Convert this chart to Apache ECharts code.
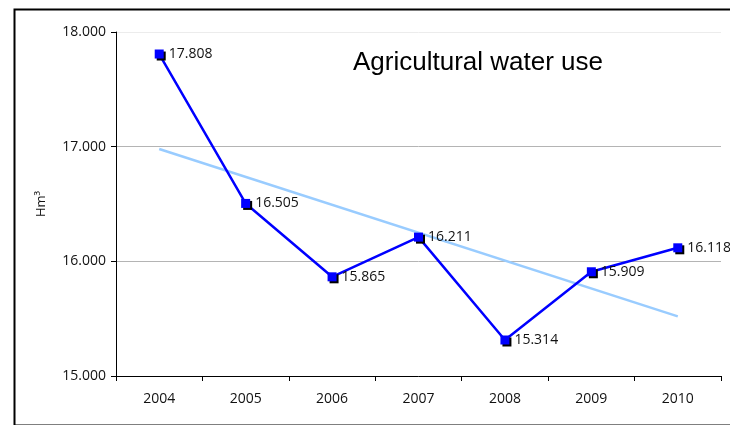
<!DOCTYPE html>
<html><head><meta charset="utf-8">
<script src="https://cdn.jsdelivr.net/npm/echarts@6/dist/echarts.min.js"></script>
<style>html,body{margin:0;padding:0;background:#fff}#c{width:730px;height:425px}</style>
</head><body><div id="c"></div>
<script>
const years = ['2004','2005','2006','2007','2008','2009','2010'];
const waterUse = [17.808, 16.505, 15.865, 16.211, 15.314, 15.909, 16.118];
const trendStart = 16.98;
const trendEnd = 15.52;
const yTicks = [15, 16, 17, 18];

const chart = echarts.init(document.getElementById('c'));
const font = '"Open Sans", "DejaVu Sans", sans-serif';
chart.setOption({
  animation: false,
  backgroundColor: '#fff',
  graphic: [{
    type: 'rect', left: 12, top: 7,
    shape: { width: 740, height: 416 },
    style: { fill: 'none', stroke: '#000', lineWidth: 2 }, z: -1
  }, {
    type: 'text', left: 353, top: 50,
    style: { text: 'Agricultural water use', font: '26px "Liberation Sans", Arial, sans-serif', fill: '#000' }
  }],
  grid: { left: 116, right: 9, top: 32, bottom: 49 },
  xAxis: {
    type: 'category', data: years, boundaryGap: true,
    axisLine: { lineStyle: { color: '#000', width: 1 } },
    axisTick: { show: true, length: 5, lineStyle: { color: '#000' } },
    axisLabel: { color: '#111', fontSize: 14, fontFamily: font, margin: 16 }
  },
  yAxis: {
    type: 'value', min: yTicks[0], max: yTicks[yTicks.length - 1], interval: 1,
    name: 'Hm³', nameLocation: 'middle', nameGap: 68, nameRotate: 90,
    nameTextStyle: { fontSize: 13, color: '#111', fontFamily: font },
    axisLine: { show: true, lineStyle: { color: '#000', width: 1 } },
    axisTick: { show: true, length: 5, lineStyle: { color: '#000' } },
    axisLabel: { color: '#111', fontSize: 14, fontFamily: font, margin: 10,
      formatter: v => v.toFixed(3) },
    splitLine: { show: true, lineStyle: { color: ['#b4b4b4', '#b4b4b4', '#b4b4b4', '#ececec'], width: 1 } }
  },
  series: [{
    type: 'line',
    data: [[years[0], trendStart], [years[years.length - 1], trendEnd]],
    symbol: 'none',
    lineStyle: { color: '#99ccff', width: 2.5 },
    z: 1
  }, {
    type: 'line',
    data: waterUse,
    symbol: 'rect', symbolSize: 9,
    lineStyle: { color: '#0000ff', width: 2.5 },
    itemStyle: { color: '#0000ff', shadowColor: '#000', shadowOffsetX: 2, shadowOffsetY: 2, shadowBlur: 0 },
    label: { show: true, position: 'right', distance: 5, color: '#111', fontSize: 14, fontFamily: font,
      formatter: p => p.value.toFixed(3) },
    z: 3
  }]
});
</script></body></html>
